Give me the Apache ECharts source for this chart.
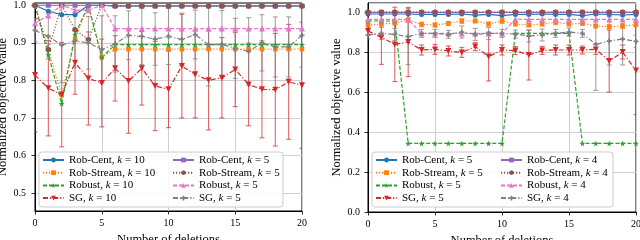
<!DOCTYPE html>
<html><head><meta charset="utf-8">
<script src="https://cdn.jsdelivr.net/npm/echarts@6/dist/echarts.min.js"></script>
<style>html,body{margin:0;padding:0;background:#fff}#c{width:640px;height:240px}</style>
</head><body><div id="c"></div>
<script>
// ---------- data ----------
const deletions = [0,1,2,3,4,5,6,7,8,9,10,11,12,13,14,15,16,17,18,19,20];
const yTicksLeft = [0.5,0.6,0.7,0.8,0.9,1.0];

// left panel (k = 10 and k = 5)
const L_RobCent10   = [1.0,0.984,0.975,0.975,1.0,1.0,0.998,0.998,0.998,0.998,0.998,0.998,0.998,0.998,0.998,0.998,0.998,0.998,0.998,0.998,0.998];
const L_RobStream10 = [1.0,0.882,0.762,0.909,1.0,0.862,0.883,0.883,0.883,0.883,0.883,0.883,0.883,0.883,0.883,0.883,0.883,0.883,0.883,0.883,0.883];
const L_Robust10    = [1.0,0.868,0.738,0.922,1.0,0.861,0.895,0.895,0.895,0.895,0.895,0.895,0.895,0.895,0.895,0.895,0.895,0.895,0.895,0.895,0.895];
const L_SG10        = [0.814,0.779,0.762,0.847,0.805,0.793,0.832,0.798,0.832,0.785,0.776,0.838,0.816,0.8,0.807,0.829,0.789,0.776,0.775,0.796,0.787];
const L_SG10_err    = [0.151,0.127,0.139,0.084,0.124,0.117,0.087,0.139,0.098,0.119,0.102,0.138,0.116,0.132,0.107,0.099,0.11,0.129,0.15,0.153,0.168];
const L_RobCent5    = [1.0,1.0,1.0,1.0,1.0,1.0,0.998,0.998,0.998,0.998,0.998,0.998,0.998,0.998,0.998,0.998,0.998,0.998,0.998,0.998,0.998];
const L_RobStream5  = [1.0,0.882,1.0,0.935,0.909,1.0,0.998,0.998,0.998,0.998,0.998,0.998,0.998,0.998,0.998,0.998,0.998,0.998,0.998,0.998,0.998];
const L_Robust5     = [0.952,0.973,1.0,0.987,0.987,1.0,0.938,0.938,0.938,0.938,0.938,0.938,0.938,0.938,0.938,0.938,0.938,0.938,0.938,0.938,0.938];
const L_SG5         = [0.933,0.917,0.894,0.905,0.9,0.882,0.897,0.92,0.917,0.91,0.917,0.909,0.922,0.895,0.896,0.885,0.877,0.9,0.889,0.889,0.92];
const L_SG5_err     = [0.03,0.06,0.1,0.07,0.07,0.09,0.075,0.065,0.075,0.07,0.075,0.07,0.065,0.11,0.09,0.08,0.09,0.075,0.08,0.08,0.085];

// right panel (k = 5 and k = 4)
const R_RobCent5    = [0.99,0.99,0.99,0.99,0.988,0.988,0.988,0.99,0.984,0.988,0.982,0.988,0.988,0.99,0.988,0.988,0.982,0.99,0.988,0.985,0.988];
const R_RobStream5  = [0.935,0.94,0.945,0.96,0.938,0.935,0.943,0.955,0.955,0.94,0.955,0.94,0.935,0.94,0.948,0.94,0.943,0.93,0.927,0.93,0.937];
const R_RobStream5_err = [0.01,0.01,0.01,0.012,0.012,0.01,0.01,0.012,0.01,0.01,0.012,0.01,0.01,0.01,0.012,0.01,0.01,0.01,0.01,0.012,0.01];
const R_Robust5     = [0.955,0.955,0.955,0.343,0.343,0.343,0.343,0.343,0.343,0.343,0.343,0.893,0.893,0.893,0.893,0.893,0.343,0.343,0.343,0.343,0.343];
const R_SG5         = [0.905,0.873,0.838,0.85,0.81,0.813,0.805,0.798,0.827,0.777,0.81,0.807,0.785,0.808,0.81,0.81,0.81,0.813,0.755,0.8,0.707];
const R_SG5_err     = [0.015,0.135,0.186,0.173,0.025,0.025,0.025,0.025,0.02,0.122,0.025,0.02,0.125,0.02,0.025,0.025,0.02,0.025,0.155,0.035,0.22];
const R_RobCent4    = [0.998,0.998,0.998,0.998,0.998,0.998,0.998,0.998,0.998,0.998,0.998,0.998,0.998,0.998,0.998,0.998,0.998,0.998,0.998,0.998,0.998];
const R_RobStream4  = [1.0,1.0,1.0,1.0,1.0,1.0,1.0,1.0,1.0,1.0,1.0,1.0,1.0,1.0,1.0,1.0,1.0,1.0,1.0,1.0,1.0];
const R_Robust4     = [0.963,0.963,0.963,0.962,0.893,0.893,0.893,0.893,0.893,0.893,0.893,0.964,0.963,0.963,0.963,0.963,0.963,0.963,0.963,0.963,0.963];
const R_SG4         = [0.885,0.893,0.888,0.877,0.893,0.893,0.888,0.9,0.888,0.893,0.893,0.89,0.88,0.885,0.893,0.9,0.893,0.838,0.855,0.865,0.853];
const R_SG4_err     = [0.02,0.03,0.03,0.14,0.02,0.02,0.02,0.03,0.03,0.03,0.02,0.02,0.03,0.03,0.02,0.02,0.02,0.23,0.12,0.13,0.03];

// ---------- styles ----------
const C = {blue:'#1f77b4',orange:'#ff7f0e',green:'#2ca02c',red:'#d62728',purple:'#9467bd',brown:'#8c564b',pink:'#e377c2',gray:'#7f7f7f'};
const STAR = 'path://M0,-10 L2.35,-3.24 L9.51,-3.09 L3.8,1.24 L5.88,8.09 L0,4 L-5.88,8.09 L-3.8,1.24 L-9.51,-3.09 L-2.35,-3.24 Z';
const HEX = 'path://M0,-10 L8.66,-5 L8.66,5 L0,10 L-8.66,5 L-8.66,-5 Z';
const PLUS = 'path://M-3.5,-10 L3.5,-10 L3.5,-3.5 L10,-3.5 L10,3.5 L3.5,3.5 L3.5,10 L-3.5,10 L-3.5,3.5 L-10,3.5 L-10,-3.5 L-3.5,-3.5 Z';
const FONT = "'Liberation Serif','DejaVu Serif',serif";
const DASHDOT = [5,2,1.2,2];

const pair = (arr) => deletions.map((d,i)=>[d, arr[i]]);
const triple = (arr, err) => deletions.map((d,i)=>[d, arr[i], err[i]]);

function lineSeries(name, data, color, symbol, type, idx, extra) {
  return Object.assign({
    type:'line', name, xAxisIndex:idx, yAxisIndex:idx, data: pair(data),
    symbol, symbolSize: 5, showSymbol:true, clip:true,
    itemStyle:{color, opacity:1}, lineStyle:{color, width:1.2, type},
    emphasis:{disabled:true}, animation:false, z:3
  }, extra||{});
}
function errSeries(vals, err, color, idx) {
  return {
    type:'custom', xAxisIndex:idx, yAxisIndex:idx, data: triple(vals, err), clip:true,
    animation:false, silent:true, z:2,
    renderItem(params, api){
      const x = api.value(0), y = api.value(1), e = api.value(2);
      const top = api.coord([x, y + e]);
      const bot = api.coord([x, y - e]);
      const cap = 2.5;
      const style = {stroke: color, lineWidth: 1.1, opacity: 0.7};
      return {type:'group', children:[
        {type:'line', shape:{x1:top[0],y1:top[1],x2:bot[0],y2:bot[1]}, style},
        {type:'line', shape:{x1:top[0]-cap,y1:top[1],x2:top[0]+cap,y2:top[1]}, style},
        {type:'line', shape:{x1:bot[0]-cap,y1:bot[1],x2:bot[0]+cap,y2:bot[1]}, style}
      ]};
    }
  };
}

const namesL = ['Rob-Cent, k = 10','Rob-Stream, k = 10','Robust, k = 10','SG, k = 10','Rob-Cent, k = 5','Rob-Stream, k = 5','Robust, k = 5','SG, k = 5'];
// trailing space keeps right-panel names distinct from left-panel ones
const namesR = ['Rob-Cent, k = 5 ','Rob-Stream, k = 5 ','Robust, k = 5 ','SG, k = 5 ','Rob-Cent, k = 4 ','Rob-Stream, k = 4 ','Robust, k = 4 ','SG, k = 4 '];

const series = [
  errSeries(L_SG10, L_SG10_err, C.red, 0),
  errSeries(L_SG5, L_SG5_err, C.gray, 0),
  lineSeries(namesL[0], L_RobCent10, C.blue, 'circle', 'solid', 0),
  lineSeries(namesL[1], L_RobStream10, C.orange, 'rect', [1.2,1.8], 0, {symbolSize:4.5}),
  lineSeries(namesL[2], L_Robust10, C.green, STAR, [4,2], 0, {symbolSize:6}),
  lineSeries(namesL[3], L_SG10, C.red, 'triangle', DASHDOT, 0, {symbolRotate:180, symbolSize:6}),
  lineSeries(namesL[4], L_RobCent5, C.purple, 'rect', 'solid', 0, {symbolSize:5}),
  lineSeries(namesL[5], L_RobStream5, C.brown, HEX, [1.2,1.8], 0, {symbolSize:5.5}),
  lineSeries(namesL[6], L_Robust5, C.pink, 'triangle', [4,2], 0, {symbolSize:6}),
  lineSeries(namesL[7], L_SG5, C.gray, PLUS, DASHDOT, 0, {symbolSize:5}),

  errSeries(R_SG5, R_SG5_err, C.red, 1),
  errSeries(R_SG4, R_SG4_err, C.gray, 1),
  errSeries(R_RobStream5, R_RobStream5_err, C.orange, 1),
  lineSeries(namesR[0], R_RobCent5, C.blue, 'circle', 'solid', 1),
  lineSeries(namesR[1], R_RobStream5, C.orange, 'rect', [1.2,1.8], 1, {symbolSize:4.5}),
  lineSeries(namesR[2], R_Robust5, C.green, STAR, [4,2], 1, {symbolSize:6}),
  lineSeries(namesR[3], R_SG5, C.red, 'triangle', DASHDOT, 1, {symbolRotate:180, symbolSize:6}),
  lineSeries(namesR[4], R_RobCent4, C.purple, 'rect', 'solid', 1, {symbolSize:5}),
  lineSeries(namesR[5], R_RobStream4, C.brown, HEX, [1.2,1.8], 1, {symbolSize:5.5}),
  lineSeries(namesR[6], R_Robust4, C.pink, 'triangle', [4,2], 1, {symbolSize:6}),
  lineSeries(namesR[7], R_SG4, C.gray, PLUS, DASHDOT, 1, {symbolSize:5})
];

const axisCommon = {
  axisLine:{show:true, onZero:false, lineStyle:{color:'#000', width:1}},
  axisTick:{show:true, inside:false, length:3.5, lineStyle:{color:'#000', width:0.8}},
  splitLine:{show:true, lineStyle:{color:'#cfcfcf', width:1}},
  axisLabel:{color:'#000', fontFamily:FONT, fontSize:10}
};
function xAx(idx){
  return Object.assign({}, axisCommon, {
    type:'value', gridIndex:idx, min:0, max:20, interval:5,
    name:'Number of deletions', nameLocation:'middle', nameGap:20,
    nameTextStyle:{color:'#000', fontFamily:FONT, fontSize:12.5},
    axisLabel:Object.assign({}, axisCommon.axisLabel, {margin:7})
  });
}
const yLeft = Object.assign({}, axisCommon, {
  type:'value', gridIndex:0, min:0.452, max:1.006,
  name:'Normalized objective value', nameLocation:'middle', nameGap:22,
  nameTextStyle:{color:'#000', fontFamily:FONT, fontSize:12.5},
  axisTick:Object.assign({}, axisCommon.axisTick, {customValues: yTicksLeft}),
  axisLabel:Object.assign({}, axisCommon.axisLabel, {customValues: yTicksLeft, margin:9, formatter:v=>v.toFixed(1)})
});
const yRight = Object.assign({}, axisCommon, {
  type:'value', gridIndex:1, min:0, max:1.045, interval:0.2,
  name:'Normalized objective value', nameLocation:'middle', nameGap:22,
  nameTextStyle:{color:'#000', fontFamily:FONT, fontSize:12.5},
  axisLabel:Object.assign({}, axisCommon.axisLabel, {margin:8, formatter:v=>v.toFixed(1), showMaxLabel:false})
});

function legendCol(names, left){
  return {
    data: names, left, top:154.5, orient:'vertical', itemGap:1.7, itemWidth:21, itemHeight:6,
    padding:0, z:60, selectedMode:false,
    textStyle:{color:'#000', fontFamily:FONT, fontSize:11,
      rich:{i:{fontStyle:'italic', fontFamily:FONT, fontSize:11, color:'#000'}}},
    formatter: n => n.replace(', k', ', {i|k}')
  };
}

const option = {
  backgroundColor:'#fff',
  animation:false,
  grid:[
    {left:35, top:3, width:267, height:208, show:true, borderColor:'#000', borderWidth:1, backgroundColor:'transparent', containLabel:false, outerBoundsMode:'none'},
    {left:368, top:3, width:268, height:209, show:true, borderColor:'#000', borderWidth:1, backgroundColor:'transparent', containLabel:false, outerBoundsMode:'none'}
  ],
  xAxis:[xAx(0), xAx(1)],
  yAxis:[yLeft, yRight],
  legend:[
    legendCol(namesL.slice(0,4), 42), legendCol(namesL.slice(4), 172),
    legendCol(namesR.slice(0,4), 375), legendCol(namesR.slice(4), 500)
  ],
  graphic:[
    {type:'rect', z:50, shape:{x:39, y:152, width:244, height:55, r:3}, style:{fill:'rgba(255,255,255,0.85)', stroke:'#cccccc', lineWidth:1}},
    {type:'rect', z:50, shape:{x:372, y:152, width:241, height:55, r:3}, style:{fill:'rgba(255,255,255,0.85)', stroke:'#cccccc', lineWidth:1}}
  ],
  series
};
const chart = echarts.init(document.getElementById('c'), null, {renderer:'canvas'});
chart.setOption(option);
</script></body></html>
